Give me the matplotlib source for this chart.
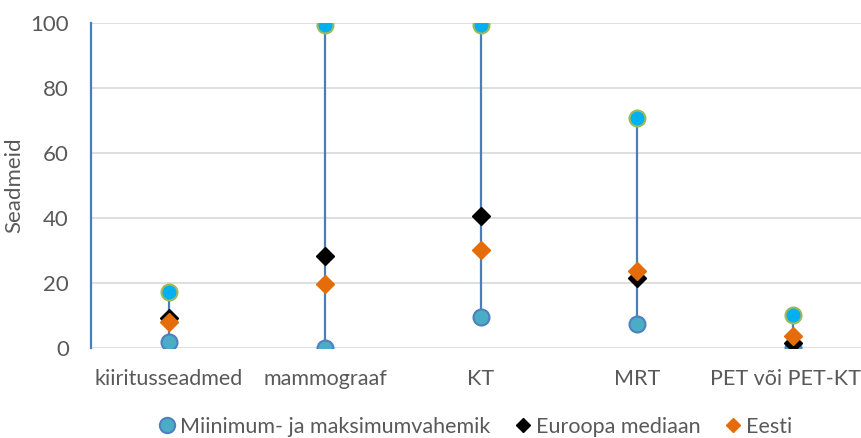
import matplotlib.pyplot as plt
import matplotlib.transforms as mtransforms
from matplotlib.lines import Line2D

categories = ["kiiritusseadmed", "mammograaf", "KT", "MRT", "PET või PET-KT"]
minimum = [2, 0, 9.5, 7.3, 0]
maximum = [17.2, 99.5, 99.5, 70.8, 10.2]
euroopa_mediaan = [9.2, 28.3, 40.6, 21.5, 1.5]
eesti = [7.9, 19.7, 30.2, 23.7, 3.7]

plt.rcParams['font.family'] = ['Lato', 'DejaVu Sans']
text_col = '#595959'

fig = plt.figure(figsize=(8.62, 4.38), dpi=100)
ax = fig.add_axes([91 / 862, 1 - 348 / 438, 780 / 862, 325 / 438])

x = range(len(categories))
# min-max range as vertical lines
ax.vlines(x, minimum, maximum, color='#4a7ebb', lw=1.6, zorder=2)
ax.plot(x, minimum, 'o', ms=11.5, mfc='#4bacc6', mec='#4f81bd', mew=1.5, zorder=3)
ax.plot(x, maximum, 'o', ms=11.5, mfc='#00b0f0', mec='#9bbb59', mew=1.5, zorder=3)
ax.plot(x, euroopa_mediaan, 'D', ms=9.5, color='black', zorder=4)
ax.plot(x, eesti, 'D', ms=9.5, color='#e46c0a', zorder=5)

ax.set_xlim(-0.5, 4.5)
ax.set_ylim(0, 100)
ax.set_yticks(range(0, 101, 20))
ax.set_xticks(list(x))
ax.set_xticklabels(categories)
ax.yaxis.grid(True, color='#d9d9d9', lw=1.2)
ax.set_axisbelow(True)
ax.tick_params(length=0, labelsize=16, labelcolor=text_col)
ax.tick_params(axis='x', pad=15, labelsize=15.5)
ax.tick_params(axis='y', pad=16)
for s in ['top', 'right', 'bottom']:
    ax.spines[s].set_visible(False)
ax.spines['left'].set_color('#4a7ebb')
ax.spines['left'].set_linewidth(1.6)
ax.set_ylabel("Seadmeid", fontsize=16, color=text_col, labelpad=4)

# keep the last category label inside the figure
last = ax.get_xticklabels()[-1]
last.set_transform(last.get_transform() + mtransforms.ScaledTranslation(-8 / 100, 0, fig.dpi_scale_trans))

handles = [
    Line2D([], [], ls='', marker='o', ms=11, mfc='#4bacc6', mec='#4f81bd', mew=1.5),
    Line2D([], [], ls='', marker='D', ms=7.5, color='black'),
    Line2D([], [], ls='', marker='D', ms=7.5, color='#e46c0a'),
]
fig.legend(handles, ["Miinimum- ja maksimumvahemik", "Euroopa mediaan", "Eesti"],
           loc='center', bbox_to_anchor=(0.55, 1 - 427 / 438), ncol=3, frameon=False,
           fontsize=15.5, labelcolor=text_col, handletextpad=0.1, columnspacing=1.0,
           handlelength=1.0)

fig.savefig("out.png", dpi=100)
